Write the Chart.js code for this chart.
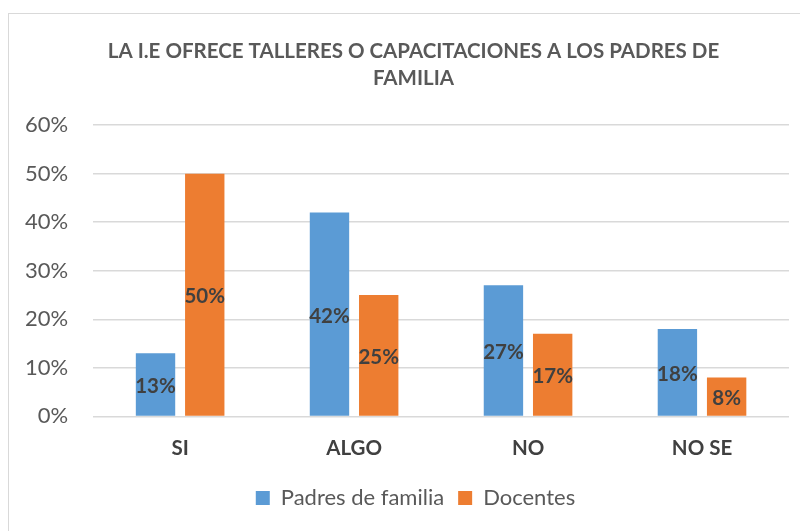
<!DOCTYPE html>
<html>
<head>
<meta charset="utf-8">
<script src="https://cdn.jsdelivr.net/npm/chart.js@4"></script>
<style>
  html, body { margin: 0; padding: 0; background: #fff; }
  #wrap { width: 800px; height: 531px; }
</style>
</head>
<body>
<div id="wrap"><canvas id="chart"></canvas></div>
<script>
const categories = ['SI', 'ALGO', 'NO', 'NO SE'];
const padres = [13, 42, 27, 18];
const docentes = [50, 25, 17, 8];
const yTicks = [0, 10, 20, 30, 40, 50, 60];

const FONT = 'Lato, "Open Sans", sans-serif';

// labels inside the bars, like excel
const barLabels = {
  id: 'barLabels',
  afterDatasetsDraw(chart) {
    const c = chart.ctx;
    c.save();
    c.font = 'bold 20.5px ' + FONT;
    c.fillStyle = '#404040';
    c.textAlign = 'center';
    c.textBaseline = 'middle';
    chart.data.datasets.forEach((ds, i) => {
      chart.getDatasetMeta(i).data.forEach((bar, j) => {
        c.fillText(ds.data[j] + '%', bar.x, (bar.y + bar.base) / 2 + 2);
      });
    });
    c.restore();
  }
};

// outer frame + nudge title/legend right (excel centers them on the whole box)
const frame = {
  id: 'frame',
  afterLayout(chart) {
    chart.titleBlock.left += 19;
    chart.titleBlock.right += 19;
    chart.legend.left += 21;
    chart.legend.right += 21;
  },
  beforeDraw(chart) {
    const c = chart.ctx;
    c.save();
    c.strokeStyle = '#d9d9d9';
    c.lineWidth = 1;
    c.strokeRect(8.5, 13.5, 900, 900);
    c.restore();
  }
};

new Chart(document.getElementById('chart').getContext('2d'), {
  type: 'bar',
  data: {
    labels: categories,
    datasets: [{
      label: 'Padres de familia',
      data: padres,
      backgroundColor: '#5b9bd5',
      categoryPercentage: 0.566,
      barPercentage: 0.8
    }, {
      label: 'Docentes',
      data: docentes,
      backgroundColor: '#ed7d31',
      categoryPercentage: 0.566,
      barPercentage: 0.8
    }]
  },
  options: {
    responsive: true,
    maintainAspectRatio: false,
    animation: false,
    layout: { padding: { top: 38, left: 0, right: 11, bottom: 12 } },
    plugins: {
      title: {
        display: true,
        text: ['LA I.E OFRECE TALLERES O CAPACITACIONES A LOS PADRES DE', 'FAMILIA'],
        color: '#595959',
        font: { family: FONT, size: 20.5, weight: 'bold', lineHeight: 1.32 },
        padding: { top: 0, bottom: 33 }
      },
      legend: {
        position: 'bottom',
        labels: {
          color: '#595959',
          font: { family: FONT, size: 22 },
          boxWidth: 14,
          boxHeight: 14,
          padding: 14
        }
      },
      tooltip: { enabled: false }
    },
    scales: {
      x: {
        grid: { display: false },
        border: { display: false },
        ticks: { color: '#404040', font: { family: FONT, size: 20.5, weight: 'bold' }, padding: 12 }
      },
      y: {
        min: 0,
        max: 60,
        afterBuildTicks: axis => { axis.ticks = yTicks.map(v => ({ value: v })); },
        grid: { color: '#d9d9d9', lineWidth: 1.5, drawTicks: false },
        border: { display: false },
        ticks: {
          color: '#595959',
          font: { family: FONT, size: 22 },
          padding: 25,
          callback: v => v + '%'
        }
      }
    }
  },
  plugins: [barLabels, frame]
});
</script>
</body>
</html>
